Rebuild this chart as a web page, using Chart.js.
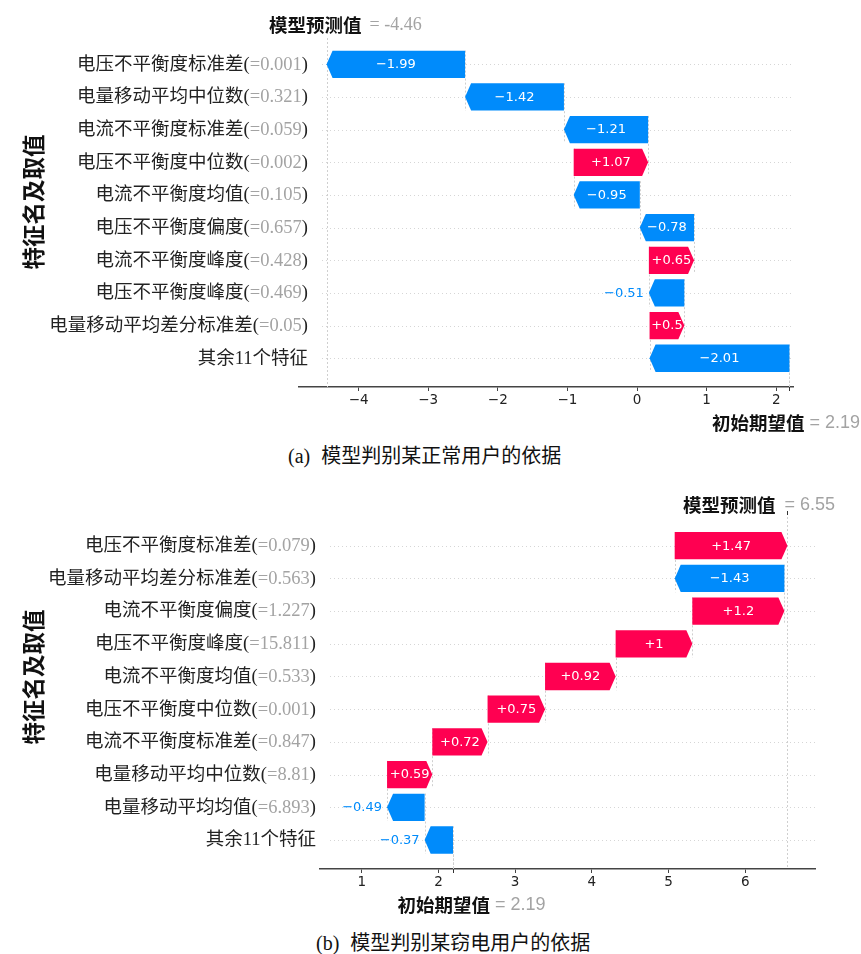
<!DOCTYPE html>
<html><head><meta charset="utf-8">
<script src="https://cdn.jsdelivr.net/npm/chart.js@4.4.1/dist/chart.umd.min.js"></script>
<style>
html,body{margin:0;padding:0;background:#fff;}
body{width:861px;height:954px;position:relative;overflow:hidden;}
.wrap{position:absolute;left:0;width:861px;height:440px;}
.cap{position:absolute;white-space:nowrap;font-size:20px;line-height:24px;color:#111;}
.cap .lat{font-family:"Liberation Serif",serif;}
.cap .cjk{font-family:"Noto Sans CJK SC",sans-serif;margin-left:11px;}
</style></head><body>
<div class="wrap" style="top:0"><canvas id="ca" width="861" height="440"></canvas></div>
<div class="wrap" style="top:480px"><canvas id="cb" width="861" height="440"></canvas></div>
<div class="cap" style="left:288px;top:443px"><span class="lat">(a)</span><span class="cjk">模型判别某正常用户的依据</span></div>
<div class="cap" style="left:316px;top:930px"><span class="lat">(b)</span><span class="cjk">模型判别某窃电用户的依据</span></div>
<script>
// ---------- data (a) ----------
const featuresA = ['电压不平衡度标准差','电量移动平均中位数','电流不平衡度标准差','电压不平衡度中位数','电流不平衡度均值','电压不平衡度偏度','电流不平衡度峰度','电压不平衡度峰度','电量移动平均差分标准差','其余11个特征'];
const featureValuesA = ['0.001','0.321','0.059','0.002','0.105','0.657','0.428','0.469','0.05',null];
const shapA = [-1.99,-1.42,-1.21,1.07,-0.95,-0.78,0.65,-0.51,0.5,-2.01];
const baseA = 2.19;
const predA = -4.46;
const xTicksA = [-4,-3,-2,-1,0,1,2];

// ---------- data (b) ----------
const featuresB = ['电压不平衡度标准差','电量移动平均差分标准差','电流不平衡度偏度','电压不平衡度峰度','电流不平衡度均值','电压不平衡度中位数','电流不平衡度标准差','电量移动平均中位数','电量移动平均均值','其余11个特征'];
const featureValuesB = ['0.079','0.563','1.227','15.811','0.533','0.001','0.847','8.81','6.893',null];
const shapB = [1.47,-1.43,1.2,1,0.92,0.75,0.72,0.59,-0.49,-0.37];
const baseB = 2.19;
const predB = 6.55;
const xTicksB = [1,2,3,4,5,6];

const POS = '#ff0051', NEG = '#008bfb';
const CJK = '"Noto Sans CJK SC"';

function waterfall(values, base) {
  // bottom row starts at base value, each bar's end is the next (upper) bar's start
  const n = values.length, out = new Array(n);
  let cur = base;
  for (let i = n - 1; i >= 0; i--) {
    const s = cur, e = cur + values[i];
    out[i] = [s, e];
    cur = e;
  }
  return out;
}
const fmtTick = v => (v < 0 ? '\u2212' + Math.abs(v) : String(v));
const fmtShap = v => (v > 0 ? '+' : '\u2212') + Math.abs(v);

function makePlugin(cfg) {
  return {
    id: 'wf',
    beforeDatasetsDraw(chart) {
      const ctx = chart.ctx, xs = chart.scales.x, ys = chart.scales.y, a = chart.chartArea;
      const unit = Math.abs(ys.getPixelForValue(1) - ys.getPixelForValue(0));
      ctx.save();
      ctx.strokeStyle = '#d6d6d6'; ctx.lineWidth = 1; ctx.setLineDash([1, 3]);
      cfg.features.forEach((f, i) => {
        const y = Math.round(ys.getPixelForValue(i)) + 0.5;
        ctx.beginPath(); ctx.moveTo(cfg.gridStart, y); ctx.lineTo(a.right, y); ctx.stroke();
      });
      ctx.strokeStyle = '#cfcfcf'; ctx.setLineDash([2, 2]);
      const segs = cfg.segs;
      for (let i = 0; i < segs.length; i++) {
        const x = Math.round(xs.getPixelForValue(segs[i][0])) + 0.5;
        const y0 = ys.getPixelForValue(i) - 0.42 * unit;
        const y1 = Math.min(ys.getPixelForValue(i + 1) + 0.42 * unit, a.bottom);
        ctx.beginPath(); ctx.moveTo(x, y0); ctx.lineTo(x, y1); ctx.stroke();
      }
      const px = Math.round(xs.getPixelForValue(cfg.pred)) + 0.5;
      ctx.beginPath(); ctx.moveTo(px, a.top); ctx.lineTo(px, a.bottom); ctx.stroke();
      const bx = Math.round(xs.getPixelForValue(cfg.base)) + 0.5;
      ctx.beginPath(); ctx.moveTo(bx, a.bottom); ctx.lineTo(bx, a.bottom - (a.bottom - a.top) / cfg.features.length); ctx.stroke();
      ctx.restore();
    },
    afterDatasetsDraw(chart) {
      const ctx = chart.ctx;
      const meta = chart.getDatasetMeta(0);
      ctx.save();
      meta.data.forEach((el, i) => {
        const v = cfg.values[i];
        const p = el.getProps(['x', 'y', 'base', 'height'], true);
        const left = Math.min(p.x, p.base), right = Math.max(p.x, p.base);
        const top = p.y - p.height / 2, bot = p.y + p.height / 2;
        const w = right - left;
        const head = Math.min(6, w);
        ctx.fillStyle = v > 0 ? POS : NEG;
        ctx.beginPath();
        if (v > 0) {
          ctx.moveTo(left, top); ctx.lineTo(right - head, top); ctx.lineTo(right, p.y);
          ctx.lineTo(right - head, bot); ctx.lineTo(left, bot);
        } else {
          ctx.moveTo(right, top); ctx.lineTo(left + head, top); ctx.lineTo(left, p.y);
          ctx.lineTo(left + head, bot); ctx.lineTo(right, bot);
        }
        ctx.closePath(); ctx.fill();
        const txt = fmtShap(v);
        ctx.font = '13px "DejaVu Sans"';
        ctx.textBaseline = 'middle';
        const tw = ctx.measureText(txt).width;
        if (tw < w) {
          ctx.fillStyle = '#ffffff'; ctx.textAlign = 'center';
          ctx.fillText(txt, (left + right) / 2, p.y + 0.5);
        } else {
          ctx.fillStyle = v > 0 ? POS : NEG;
          if (v < 0) { ctx.textAlign = 'right'; ctx.fillText(txt, left - 5, p.y + 0.5); }
          else { ctx.textAlign = 'left'; ctx.fillText(txt, right + 5, p.y + 0.5); }
        }
      });
      ctx.restore();
    },
    afterDraw(chart) {
      const ctx = chart.ctx, xs = chart.scales.x, ys = chart.scales.y, a = chart.chartArea;
      ctx.save();
      ctx.textBaseline = 'middle'; ctx.textAlign = 'right';
      ctx.font = '18.5px "Liberation Serif", ' + CJK;
      cfg.features.forEach((name, i) => {
        const y = ys.getPixelForValue(i) + 0.5;
        let xr = cfg.labelRight;
        const val = cfg.featureValues[i];
        if (val != null) {
          ctx.fillStyle = '#222'; ctx.fillText(')', xr, y); xr -= ctx.measureText(')').width;
          const t = '=' + val;
          ctx.fillStyle = '#a3a3a3'; ctx.fillText(t, xr, y); xr -= ctx.measureText(t).width;
          ctx.fillStyle = '#222'; ctx.fillText(name + '(', xr, y);
        } else {
          ctx.fillStyle = '#222'; ctx.fillText(name, xr, y);
        }
      });
      ctx.save();
      ctx.translate(cfg.yTitle[0], cfg.yTitle[1]);
      ctx.rotate(-Math.PI / 2);
      ctx.textAlign = 'center'; ctx.textBaseline = 'middle';
      ctx.font = 'bold 22.5px ' + CJK; ctx.fillStyle = '#111';
      ctx.fillText('特征名及取值', 0, 0);
      ctx.restore();
      const px = xs.getPixelForValue(cfg.pred);
      ctx.textBaseline = 'middle';
      ctx.font = 'bold 18.5px ' + CJK; ctx.fillStyle = '#111'; ctx.textAlign = 'right';
      ctx.fillText('模型预测值', px + cfg.predOff[0], cfg.predY);
      ctx.font = '18px ' + cfg.predValFont; ctx.fillStyle = '#a3a3a3'; ctx.textAlign = 'left';
      ctx.fillText('= ' + cfg.pred, px + cfg.predOff[1], cfg.predY);
      const bx = xs.getPixelForValue(cfg.base);
      ctx.font = 'bold 18.5px ' + CJK; ctx.fillStyle = '#111'; ctx.textAlign = 'right';
      ctx.fillText('初始期望值', bx + cfg.baseOff[0], cfg.baseY);
      ctx.font = '18px "Liberation Sans"'; ctx.fillStyle = '#a3a3a3'; ctx.textAlign = 'left';
      ctx.fillText('= ' + cfg.base, bx + cfg.baseOff[1], cfg.baseY);
      ctx.strokeStyle = '#333'; ctx.lineWidth = 1;
      const bxr = Math.round(bx) + 0.5;
      ctx.beginPath(); ctx.moveTo(bxr, a.bottom); ctx.lineTo(bxr, a.bottom + 4); ctx.stroke();
      if (cfg.topTick) {
        const pxr = Math.round(px) + 0.5;
        ctx.beginPath(); ctx.moveTo(pxr, a.top - 2); ctx.lineTo(pxr, a.top + 2); ctx.stroke();
      }
      ctx.restore();
    }
  };
}

function build(canvasId, o) {
  const segs = waterfall(o.values, o.base);
  const cfg = Object.assign({}, o, {segs});
  return new Chart(document.getElementById(canvasId), {
    type: 'bar',
    data: {
      datasets: [{
        data: segs.map((s, i) => ({y: i, x: [s[0], s[1]]})),
        backgroundColor: 'rgba(0,0,0,0)',
        borderWidth: 0,
        barPercentage: 0.835,
        categoryPercentage: 1.0
      }]
    },
    options: {
      indexAxis: 'y',
      responsive: false,
      animation: false,
      events: [],
      layout: {padding: o.padding},
      plugins: {legend: {display: false}, tooltip: {enabled: false}},
      scales: {
        y: {
          type: 'linear', display: false, reverse: true, offset: false,
          min: o.yRange[0], max: o.yRange[1],
          afterBuildTicks: s => { s.ticks = o.features.map((_, i) => ({value: i})); }
        },
        x: {
          type: 'linear', position: 'bottom',
          min: o.xRange[0], max: o.xRange[1],
          afterBuildTicks: s => { s.ticks = o.xTicks.map(v => ({value: v})); },
          afterFit: s => { s.height = 30; },
          border: {display: true, color: '#444', width: 1.5},
          grid: {display: true, drawOnChartArea: false, drawTicks: true, tickLength: 4, color: '#444'},
          ticks: {
            callback: v => fmtTick(v), padding: 1, color: '#222',
            font: {family: 'DejaVu Sans', size: 13.5}, maxRotation: 0, autoSkip: false
          }
        }
      }
    },
    plugins: [makePlugin(cfg)]
  });
}

build('ca', {
  features: featuresA, featureValues: featureValuesA, values: shapA,
  base: baseA, pred: predA, xTicks: xTicksA,
  xRange: [-4.856, 2.241], yRange: [-0.805, 9.88],
  padding: {left: 299, right: 68, top: 38, bottom: 23},
  gridStart: 322, labelRight: 308, yTitle: [33, 202],
  predOff: [35, 43], predY: 25, predValFont: '"Liberation Serif"',
  baseOff: [15, 20], baseY: 423, topTick: false
});
build('cb', {
  features: featuresB, featureValues: featureValuesB, values: shapB,
  base: baseB, pred: predB, xTicks: xTicksB,
  xRange: [0.456, 6.909], yRange: [-1.0, 9.887],
  padding: {left: 320, right: 46, top: 33, bottom: 21},
  gridStart: 330, labelRight: 316, yTitle: [33, 197],
  predOff: [-12, -3], predY: 25, predValFont: '"Liberation Sans"',
  baseOff: [37, 42], baseY: 425, topTick: true
});
</script>
</body></html>
